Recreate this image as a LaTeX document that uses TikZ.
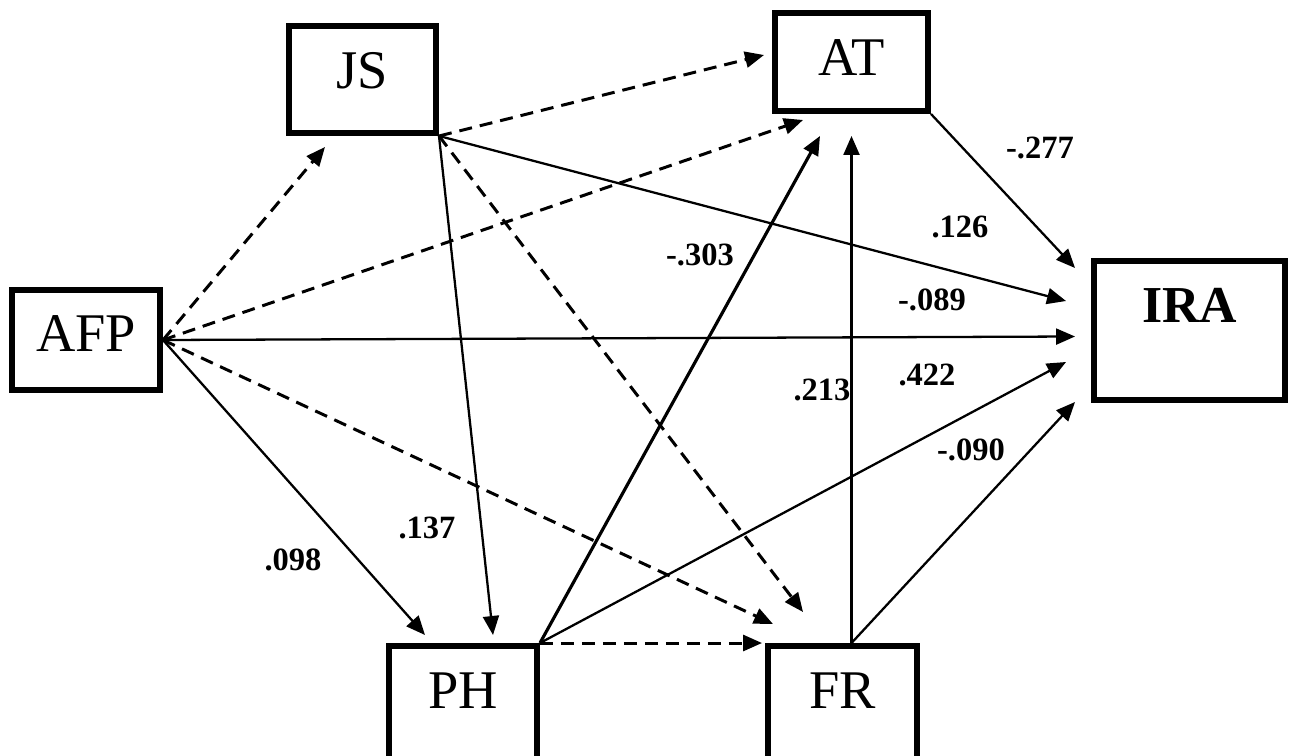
\documentclass[tikz,border=0pt]{standalone}
\usepackage{fontspec}
\setmainfont{Liberation Serif}
\usetikzlibrary{arrows.meta,calc}

\tikzset{
  box/.style={draw, line width=0.12cm, inner sep=0pt, font=\fontsize{31}{34}\selectfont},
  effect/.style={line width=1.3pt, -{Triangle[length=0.38cm,width=0.32cm]}},
  weak/.style={effect, line width=1.7pt, dash pattern=on 0.26cm off 0.16cm},
  coef/.style={font=\bfseries\fontsize{18.5}{20}\selectfont},
}

\begin{document}
\begin{tikzpicture}[x=0.02cm, y=-0.02cm]
          \useasboundingbox (0,0) rectangle (1293,756);

          % constructs
          \node [box, minimum width=2.96cm, minimum height=2.00cm, text depth=0.26cm] (afp) at (86,340) {AFP};
          \node [box, minimum width=2.94cm, minimum height=2.14cm, text depth=0.36cm] (js) at (362.5,79.5) {JS};
          \node [box, minimum width=3.06cm, minimum height=1.96cm, text depth=0.16cm] (at) at (851.5,62) {AT};
          \node [box, minimum width=2.96cm, minimum height=2.32cm, text depth=0.54cm] (ph) at (463,704) {PH};
          \node [box, minimum width=2.98cm, minimum height=2.32cm, text depth=0.54cm] (fr) at (842.5,704) {FR};
          \node [box, minimum width=3.82cm, minimum height=2.78cm, text depth=1.00cm,
                 font=\bfseries\fontsize{29.5}{32}\selectfont] (ira) at (1189.5,330.5) {IRA};

          % paths into IRA
          \draw [effect] (at.south east) -- ([shift={(-16,-62.5)}]ira.west);
          \draw [effect] (js.south east) -- ([shift={(-25,-29.5)}]ira.west);
          \draw [effect] (afp.east) -- ([shift={(-16,6)}]ira.west);
          \draw [effect] (ph.north east) -- ([shift={(-25,31.5)}]ira.west);
          \draw [effect] (fr.north -| at.south) -- ([shift={(-16,71.5)}]ira.west);

          % paths into AT
          \draw [weak] (js.south east) -- ([shift={(-8,-7)}]at.west);
          \draw [weak] (afp.east) -- ([shift={(-48.5,6)}]at.south);
          \draw [effect, line width=1.8pt] (ph.north east) -- ([shift={(-31.5,22)}]at.south);
          \draw [effect] (fr.north -| at.south) -- ([shift={(0,22)}]at.south);

          % paths into JS, PH and FR
          \draw [weak] (afp.east) -- ([shift={(-37.5,11)}]js.south);
          \draw [effect] (afp.east) -- ([shift={(-38,-8)}]ph.north);
          \draw [effect] (js.south east) -- ([shift={(30,-8)}]ph.north);
          \draw [weak] (ph.north east) -- ([shift={(-3,0)}]fr.north west);
          \draw [weak] (afp.east) -- ([shift={(-69.5,-19)}]fr.north);
          \draw [weak] (js.south east) -- ([shift={(-39.5,-31)}]fr.north);

          % path coefficients
          \node [coef] (w_at_ira) at (1040,148) {-.277};
          \node [coef] (w_js_ira) at (960,227) {.126};
          \node [coef] (w_afp_ira) at (932,300) {-.089};
          \node [coef] (w_ph_ira) at (927,375) {.422};
          \node [coef] (w_fr_ira) at (971,450) {-.090};
          \node [coef] (w_fr_at) at (822,390) {.213};
          \node [coef] (w_ph_at) at (700,255) {-.303};
          \node [coef] (w_js_ph) at (427,528) {.137};
          \node [coef] (w_afp_ph) at (293,560) {.098};
\end{tikzpicture}
\end{document}
